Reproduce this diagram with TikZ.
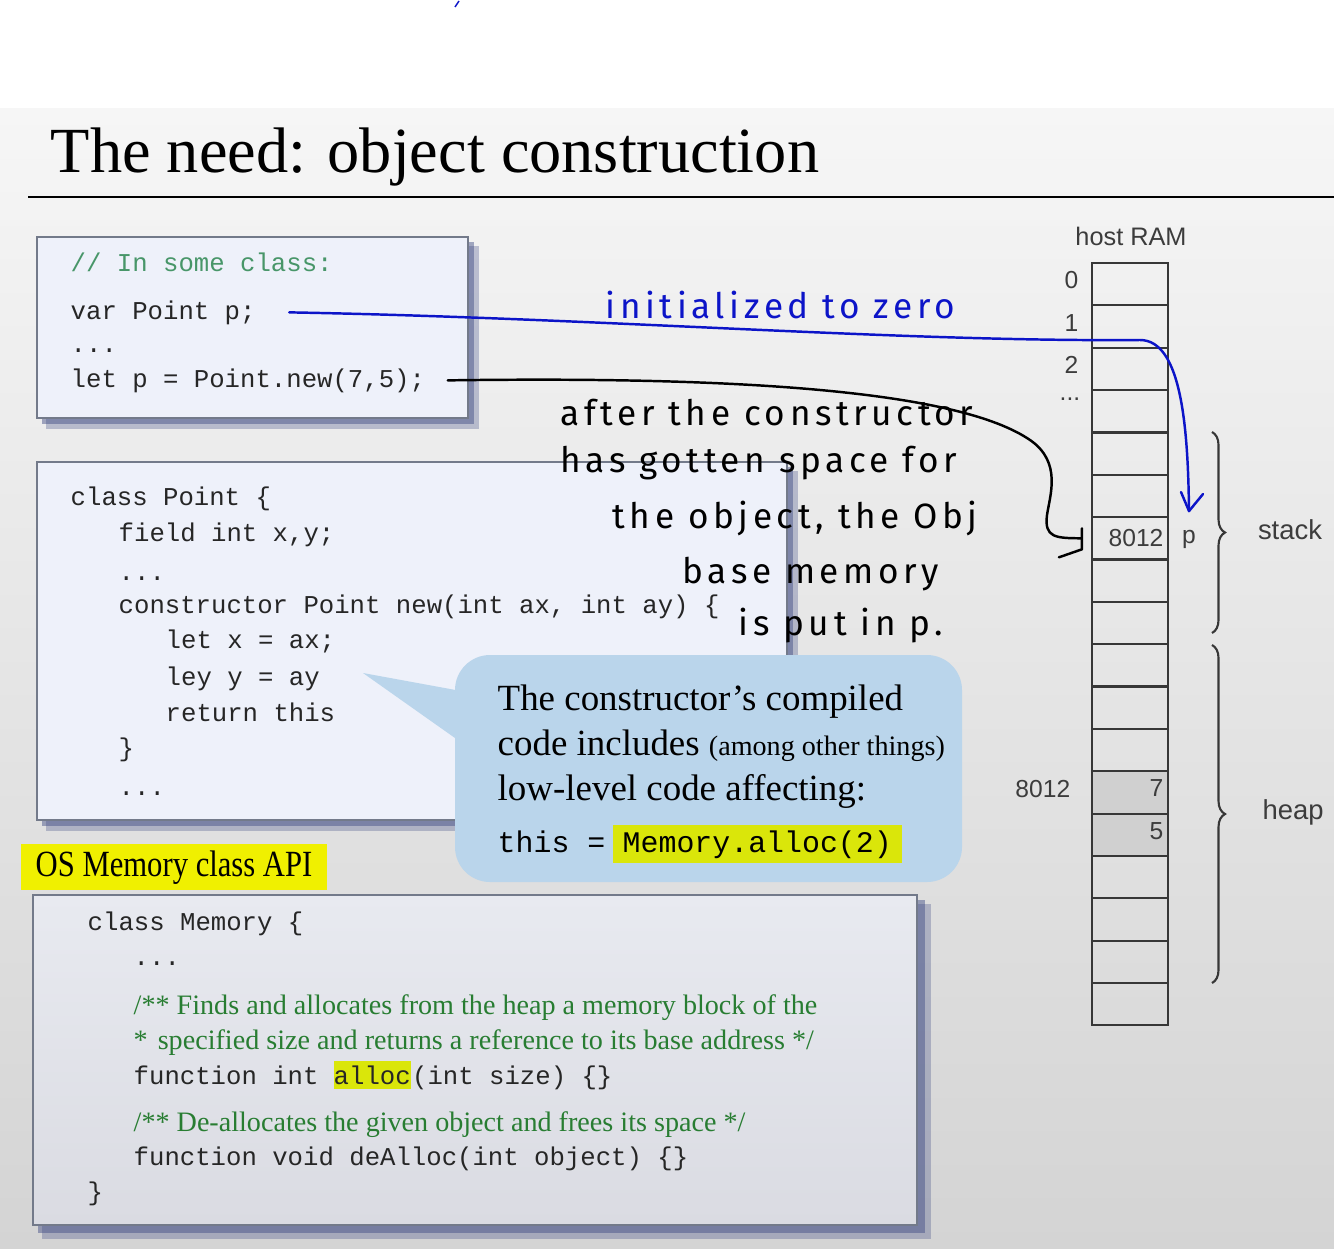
\documentclass[tikz,border=0pt]{standalone}
\usepackage{fontspec}
\setmainfont{Liberation Serif}
\setsansfont{Liberation Sans}
\setmonofont{Liberation Mono}
\newfontfamily\handfont[LetterSpace=13]{Fira Sans}
\usepackage{graphicx}
\usetikzlibrary{positioning,decorations.pathreplacing}

\definecolor{slidetop}{RGB}{246,246,246}
\definecolor{slidebot}{RGB}{212,212,212}
\definecolor{boxfill}{RGB}{238,241,250}
\definecolor{boxline}{RGB}{115,122,138}
\definecolor{shadowblue}{RGB}{60,72,130}
\definecolor{memtop}{RGB}{232,234,240}
\definecolor{membot}{RGB}{218,219,226}
\definecolor{callout}{RGB}{186,213,235}
\definecolor{hilite}{RGB}{218,230,10}
\definecolor{oshilite}{RGB}{240,240,0}
\definecolor{codegray}{RGB}{38,38,38}
\definecolor{commentgreen}{RGB}{72,150,105}
\definecolor{memgreen}{RGB}{40,125,50}
\definecolor{ramline}{RGB}{55,55,55}
\definecolor{ramgray}{RGB}{60,60,60}
\definecolor{cellgray}{RGB}{208,208,208}
\definecolor{inkblue}{RGB}{12,20,200}

\tikzset{
  code/.style={anchor=base west, inner sep=0pt, text=codegray, font=\ttfamily\fontsize{7.3}{9}\selectfont},
  comment/.style={code, text=commentgreen},
  memnote/.style={anchor=base west, inner sep=0pt, text=memgreen, font=\rmfamily\fontsize{8}{10}\selectfont},
  callt/.style={anchor=base west, inner sep=0pt, font=\rmfamily\fontsize{10.5}{12}\selectfont},
  callcode/.style={code, text=black, font=\ttfamily\fontsize{8.5}{10}\selectfont},
  ramcell/.style={draw=ramline, line width=0.6pt, minimum width=0.76cm, minimum height=0.4235cm, inner sep=0pt},
  ramtxt/.style={inner sep=0pt, text=ramgray, font=\sffamily\fontsize{7}{8}\selectfont},
  sidetxt/.style={inner sep=0pt, text=ramgray, font=\sffamily\fontsize{7.8}{9}\selectfont},
  hand/.style={anchor=base west, inner sep=0pt, font=\handfont\fontsize{10}{12}\selectfont},
  ink/.style={line width=0.7pt, line cap=round, line join=round},
  bracepath/.style={decorate, decoration={brace, amplitude=0.13cm}, line width=0.6pt, draw=ramline},
}

\begin{document}
\begin{tikzpicture}[x=0.01cm, y=-0.01cm]
    \useasboundingbox (0,0) rectangle (1334,1248);
    \fill[white] (0,0) rectangle (1334,108);
    \shade[top color=slidetop, bottom color=slidebot] (0,108) rectangle (1334,1248);
    \draw[inkblue, line width=0.4pt] (455,7) -- (459,1);

    \node[anchor=base west, inner sep=0pt, font=\rmfamily\fontsize{18.3}{20}\selectfont] (title) at (50,172) {The need: object construction};
    \draw[line width=0.8pt] (28,197) -- (1334,197);

    \fill[shadowblue, opacity=.3] (46,246) rectangle (479,429);
    \fill[shadowblue, opacity=.45] (42,242) rectangle (474,424);
    \filldraw[fill=boxfill, draw=boxline, line width=0.6pt] (37,237) rectangle (468,418);
    \node[comment] (incls) at (70,271) {// In some class:};
    \node[code] (varp) at (70,319) {var Point p;};
    \node[code] (dotsa) at (70,352) {...};
    \node[code] (letp) at (70,387) {let p = Point.new(7,5);};

    \fill[shadowblue, opacity=.3] (46,471) rectangle (798,831);
    \fill[shadowblue, opacity=.45] (42,467) rectangle (793,826);
    \filldraw[fill=boxfill, draw=boxline, line width=0.6pt] (37,462) rectangle (787,820);
    \node[code] (clspt) at (70,505) {class Point \{};
    \node[code] (fieldxy) at (118,541) {field int x,y;};
    \node[code] (dotsb) at (118,580) {...};
    \node[code] (ctor) at (118,613) {constructor Point new(int ax, int ay) \{};
    \node[code] (letx) at (165,648) {let x = ax;};
    \node[code] (leyy) at (165,685) {ley y = ay};
    \node[code] (rethis) at (165,721) {return this};
    \node[code] (ctorend) at (118,756) {\}};
    \node[code] (dotsc) at (118,795) {...};

    \fill[callout, rounded corners=0.35cm] (455,655) rectangle (962,882);
    \fill[callout] (363,673) -- (472,693) -- (472,750) -- cycle;
    \node[callt] (co1) at (497,710) {The constructor's compiled};
    \node[callt] (co2) at (497,755) {code includes {\fontsize{8}{9}\selectfont(among other things)}};
    \node[callt] (co3) at (497,800) {low-level code affecting:};
    \node[callcode] (cothis) at (497,852) {this =};
    \node[callcode, fill=hilite, inner xsep=0.1cm, inner ysep=0.05cm] (coalloc) at (612,852) {Memory.alloc(2)};

    \node[anchor=base west, fill=oshilite, inner xsep=0.15cm, inner ysep=0.06cm, font=\rmfamily\fontsize{10.5}{12}\selectfont] (osapi) at (20,876) {\scalebox{0.83}[1]{OS Memory class API}};

    \fill[shadowblue, opacity=.3] (42,904) rectangle (931,1239);
    \fill[shadowblue, opacity=.45] (38,900) rectangle (925,1233);
    \shade[top color=memtop, bottom color=membot] (33,895) rectangle (917,1225);
    \draw[boxline, line width=0.6pt] (33,895) rectangle (917,1225);
    \node[code] (memcls) at (87,930) {class Memory \{};
    \node[code] (memdots) at (133,965) {...};
    \node[memnote] (note1) at (133,1014) {/** Finds and allocates from the heap a memory block of the};
    \node[memnote] (note2) at (133,1049) {*\hspace{0.1cm}specified size and returns a reference to its base address */};
    \node[code] (fnint) at (133,1084) {function int};
    \node[code, fill=hilite, inner ysep=0.045cm] (allocw) at (333,1084) {alloc};
    \node[code] (allocargs) at (allocw.base east) {(int size) \{\}};
    \node[memnote] (note3) at (133,1131) {/** De-allocates the given object and frees its space */};
    \node[code] (fndealloc) at (133,1165) {function void deAlloc(int object) \{\}};
    \node[code] (memend) at (87,1200) {\}};

    \node[sidetxt, font=\sffamily\fontsize{7.2}{9}\selectfont] (hostram) at (1131,236) {host RAM};
    \foreach \i in {0,...,17}
        \node[ramcell] (m\i) at (1130,{284.2+42.35*\i}) {};
    \node[ramcell, fill=cellgray] (m12) at (1130,{284.2+42.35*12}) {};
    \node[ramcell, fill=cellgray] (m13) at (1130,{284.2+42.35*13}) {};
    \node[ramtxt, anchor=east] (a0) at ([xshift=-0.12cm, yshift=0.04cm]m0.west) {0};
    \node[ramtxt, anchor=east] (a1) at ([xshift=-0.12cm, yshift=0.04cm]m1.west) {1};
    \node[ramtxt, anchor=east] (a2) at ([xshift=-0.12cm, yshift=0.04cm]m2.west) {2};
    \node[ramtxt, anchor=east] (adots) at ([xshift=-0.1cm, yshift=0.12cm]m3.west) {...};
    \node[ramtxt, anchor=east] (v8012) at ([xshift=-0.05cm]m6.east) {8012};
    \node[ramtxt, anchor=base] (plbl) at (1189,543) {p};
    \node[ramtxt, anchor=east] (v7) at ([xshift=-0.05cm, yshift=0.04cm]m12.east) {7};
    \node[ramtxt, anchor=east] (v5) at ([xshift=-0.05cm, yshift=0.04cm]m13.east) {5};
    \node[ramtxt, anchor=east] (a8012) at ([xshift=-0.2cm, yshift=0.03cm]m12.west) {8012};

    \draw[bracepath] (1212,432) -- (1212,633);
    \draw[bracepath] (1212,645) -- (1212,983);
    \node[sidetxt] (stack) at (1290,530) {stack};
    \node[sidetxt] (heap) at (1293,812) {heap};

    \node[hand, text=inkblue] (hwinit) at (605,318) {initialized to zero};
    \node[hand] (hw1) at (560,425) {after the constructor};
    \node[hand] (hw2) at (560,472) {has gotten space for};
    \node[hand] (hw3) at (612,528) {the object, the Obj};
    \node[hand] (hw4) at (682,583) {base memory};
    \node[hand] (hw5) at (738,635) {is put in p.};

    \coordinate (ptip) at ([yshift=0.18cm]plbl.north);
    \draw[ink, inkblue] ([xshift=0.33cm]varp.east) .. controls (600,318) and (900,342) .. (1140,340) .. controls (1182,340) and (1188,430) .. (ptip);
    \draw[ink, inkblue] ([xshift=-0.08cm, yshift=0.19cm]ptip) -- (ptip) -- ([xshift=0.14cm, yshift=0.17cm]ptip);

    \draw[ink] ([xshift=0.22cm]letp.east) .. controls (750,376) and (960,392) .. (1030,440) .. controls (1062,462) and (1050,495) .. (1047,515) .. controls (1044,538) and (1056,538) .. ([xshift=-0.1cm]m6.west);
    \draw[ink] ([xshift=-0.09cm, yshift=0.1cm]m6.west) -- ([xshift=-0.09cm, yshift=-0.11cm]m6.west) -- ([xshift=-0.32cm, yshift=-0.19cm]m6.west);
\end{tikzpicture}
\end{document}
